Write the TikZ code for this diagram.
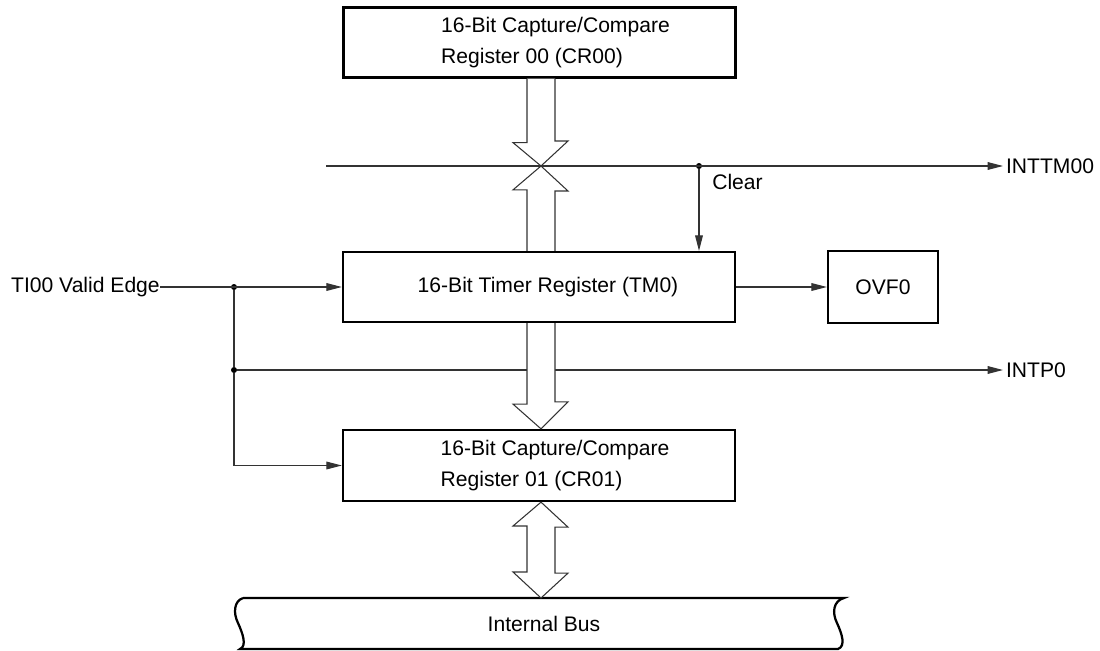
\documentclass[tikz,border=0pt]{standalone}
\usepackage{fontspec}
\setsansfont{Liberation Sans}
\usepackage{tikz}
\usetikzlibrary{positioning,arrows.meta,calc}

\begin{document}
\begin{tikzpicture}[x=0.025cm, y=-0.025cm,
  every node/.style={font=\sffamily\fontsize{15}{21.5}\selectfont},
  reg/.style={rectangle, draw=black, line width=1.6pt, minimum width=9.8cm,
              minimum height=1.75cm, align=left, inner sep=0pt},
  sig/.style={-{Triangle[length=11pt,width=5.5pt]}, line width=0.75pt, black!80},
  wire/.style={line width=0.75pt, black!80},
  fat/.style={line width=0.75pt, draw=black!80, fill=white},
  dot/.style={circle, fill=black, inner sep=0pt, minimum size=0.15cm}
]
  \useasboundingbox (0,0) rectangle (1100,651);
  % registers
  \node[reg] (cr00) at (539.5,42.5) {\hspace*{0.8cm}16-Bit Capture/Compare\\\hspace*{0.8cm}Register 00 (CR00)};
  \node[reg] (tm0) at (539,287) {\hspace*{0.45cm}16-Bit Timer Register (TM0)};
  \node[reg, minimum height=1.775cm] (cr01) at (539,465.5) {\hspace*{0.8cm}16-Bit Capture/Compare\\\hspace*{0.8cm}Register 01 (CR01)};
  \node[reg, minimum width=2.75cm, minimum height=1.8cm] (ovf) at (883,287) {OVF0};
  % labels
  \node[anchor=east, inner sep=0pt] (ti) at (160,287) {TI00 Valid Edge};
  \node[anchor=west, inner xsep=2pt, inner ysep=0pt] (inttm) at (1003,166) {INTTM00};
  \node[anchor=west, inner xsep=2pt, inner ysep=0pt] (intp) at (1003,370) {INTP0};
  \node[anchor=west, inner sep=0pt] (clrlbl) at (712,182) {Clear};
  \node (bus) at (544,624) {Internal Bus};
  % junctions
  \coordinate (tmL) at (326,166);
  \coordinate (xing) at (541,166);
  \coordinate (bustop) at (541,598);
  \node[dot] (clr) at (699,166) {};
  \node[dot] (j1) at (234,287) {};
  \node[dot] (j2) at (234,370) {};
  % signal lines
  \draw[sig] (tmL) -- (inttm.west);
  \draw[sig] (clr) -- (clr |- tm0.north);
  \draw[sig] (ti.east) -- (tm0.west);
  \draw[wire] (j1) -- (j2);
  \draw[sig] (j2) -- (intp.west);
  \draw[sig] (j2) |- (cr01.west);
  \draw[sig] (tm0.east) -- (ovf.west);
  % internal bus
  \draw[line width=1.6pt] (243,598) -- (844,598)
    .. controls (833,601) and (832,613) .. (837,623)
    .. controls (842,634) and (846,646) .. (838,649) -- (240,649)
    .. controls (247,646) and (243,634) .. (238,623)
    .. controls (233,613) and (234,601) .. (243,598);
  % data paths
  \draw[fat] ($(cr00.south)+(-12.5,0)$) -- ++(0,64) -- ++(-14,0) -- (xing)
    -- ++(27,-25) -- ++(-13,0) -- ($(cr00.south)+(15.5,0)$);
  \draw[fat] ($(tm0.north)+(-12,0)$) -- ++(0,-61) -- ++(-14,0) -- (xing)
    -- ++(27,25) -- ++(-13,0) -- ($(tm0.north)+(16,0)$);
  \draw[fat] ($(tm0.south)+(-12,0)$) -- ++(0,81) -- ++(-14,0) -- ($(cr01.north)+(2,0)$)
    -- ++(27,-27) -- ++(-13,0) -- ($(tm0.south)+(16,0)$);
  \draw[fat] ($(cr01.south)+(2,0)$) -- ++(27,25) -- ++(-13,0) -- ++(0,46) -- ++(13,0)
    -- (bustop) -- ++(-28,-26) -- ++(14,0) -- ++(0,-46) -- ++(-14,0) -- cycle;
\end{tikzpicture}
\end{document}
